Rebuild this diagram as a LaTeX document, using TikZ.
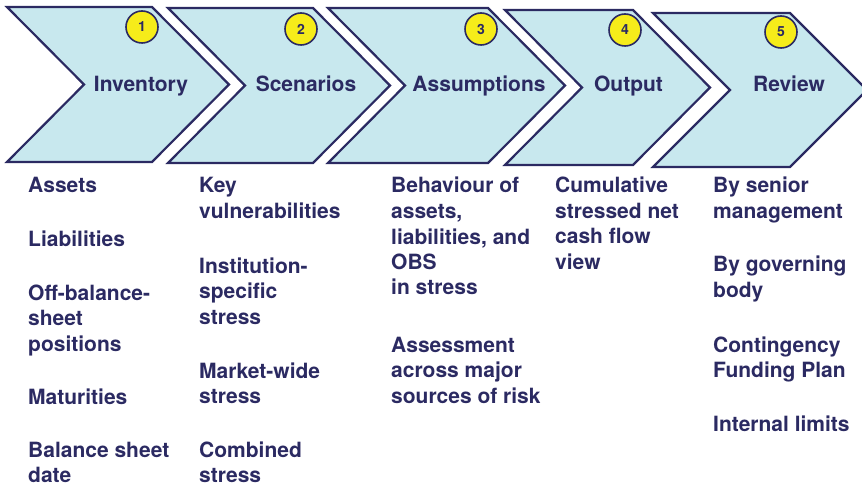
\documentclass[tikz,border=0pt]{standalone}
\usepackage{fontspec}
\setmainfont{TeX Gyre Heros}
\definecolor{navy}{HTML}{2B2A62}
\definecolor{chevfill}{HTML}{C8E8EE}
\definecolor{badge}{HTML}{F6EC1A}
\newcommand\mychev[5]{\draw[chev] (#1,#3) -- (#2,#3) -- ({#2+77},{(#3+#4)/2}) -- (#2,#4) -- (#1,#4) -- ({#1+77},{(#3+#4)/2}) -- cycle;}
\begin{document}
\begin{tikzpicture}[x=1pt,y=-1pt,
 chev/.style={draw=navy, fill=chevfill, line width=2.2pt, line join=miter},
 badgenode/.style={circle, draw=navy, fill=badge, line width=1.6pt, minimum size=32pt, inner sep=0pt, text=navy, font=\fontsize{14}{14}\selectfont\bfseries},
 title/.style={anchor=base, text=navy, font=\fontsize{21}{25}\selectfont\bfseries, inner sep=0pt},
 item/.style={anchor=base west, align=left, text=navy, font=\fontsize{21}{25.5}\selectfont\bfseries, inner sep=0pt}
]
\useasboundingbox (0,0) rectangle (862,486);
\begin{scope}
\clip (0,0) rectangle (862,486);
\mychev{7}{152}{7}{162}{}
\mychev{168}{313}{8}{163}{}
\mychev{328}{488}{8}{163}{}
\mychev{505}{633}{10}{165}{}
\mychev{653}{790}{13}{167}{}
\end{scope}

\node[badgenode] (b1) at (142,27) {1};
\node[badgenode] (b2) at (301,29) {2};
\node[badgenode] (b3) at (481,29) {3};
\node[badgenode] (b4) at (625,30) {4};
\node[badgenode] (b5) at (781,32) {5};

\node[title] (t1) at (141,92) {Inventory};
\node[title] (t2) at (306,92) {Scenarios};
\node[title] (t3) at (479,92) {Assumptions};
\node[title] (t4) at (628.5,92) {Output};
\node[title] (t5) at (789,92) {Review};

% column 1 (positions are baselines of the last line)
\node[item] (a1) at (28,193) {Assets};
\node[item] (a2) at (28,247) {Liabilities};
\node[item] (a3) at (28,351) {Off-balance-\\sheet\\positions};
\node[item] (a4) at (28,404) {Maturities};
\node[item] (a5) at (28,482.5) {Balance sheet\\date};
% column 2
\node[item] (s1) at (199,218.5) {Key\\vulnerabilities};
\node[item] (s2) at (199,324) {Institution-\\specific\\stress};
\node[item] (s3) at (199,403.5) {Market-wide\\stress};
\node[item] (s4) at (199,482.5) {Combined\\stress};
% column 3
\node[item] (m1) at (391,295) {Behaviour of\\assets,\\liabilities, and\\OBS\\in stress};
\node[item] (m2) at (391,403) {Assessment\\across major\\sources of risk};
% column 4
\node[item] (o1) at (555,269.5) {Cumulative\\stressed net\\cash flow\\view};
% column 5
\node[item] (r1) at (713,218.5) {By senior\\management};
\node[item] (r2) at (713,297.5) {By governing\\body};
\node[item] (r3) at (713,377.5) {Contingency\\Funding Plan};
\node[item] (r4) at (713,431) {Internal limits};
\end{tikzpicture}
\end{document}
